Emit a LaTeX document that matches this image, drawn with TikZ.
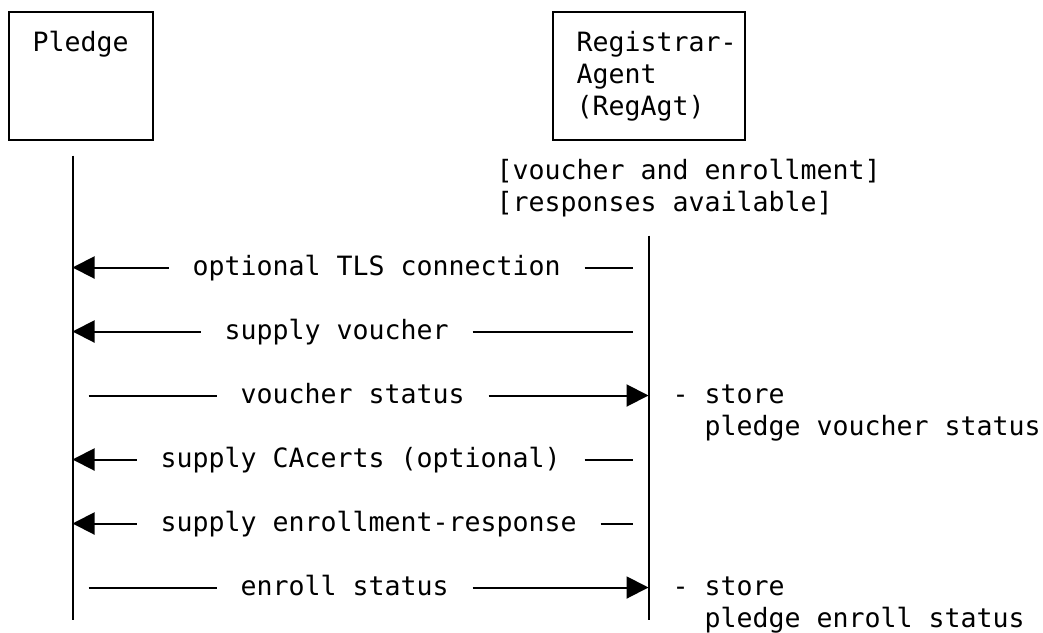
\documentclass[tikz,border=0pt]{standalone}
\usepackage{fontspec}
\newfontfamily\diagmono{DejaVu Sans Mono}
\usetikzlibrary{arrows.meta}

\begin{document}
\begin{tikzpicture}[x=1pt, y=-1pt,
  every node/.style={inner sep=0pt, outer sep=0pt,
    font=\diagmono\fontsize{26.58}{32}\selectfont},
  txt/.style={anchor=base west},
  box/.style={draw, line width=2pt, rectangle},
  wire/.style={line width=2pt},
  msg/.style={line width=2pt, -{Triangle[length=22pt,width=22pt]}},
]
\useasboundingbox (0,0) rectangle (1043,632);

% participants
\node[box, minimum width=144pt, minimum height=128pt] (pledge) at (80.5,75.5) {};
\node[box, minimum width=192pt, minimum height=128pt] (regagt) at (648.5,75.5) {};
\node[txt] (pledgeT) at (32.5,51.5) {Pledge};
\node[txt] (regT1) at (576.5,51.5) {Registrar-};
\node[txt] (regT2) at (576.5,83.5) {Agent};
\node[txt] (regT3) at (576.5,115.5) {(RegAgt)};

% precondition
\node[txt] (cond1) at (496.5,179.5) {[voucher and enrollment]};
\node[txt] (cond2) at (496.5,211.5) {[responses available]};

% lifelines
\coordinate (pTop) at (72.5,155.5);
\coordinate (pBot) at (72.5,619.5);
\coordinate (rTop) at (648.5,235.5);
\coordinate (rBot) at (648.5,619.5);
\draw[wire] (pTop) -- (pBot);
\draw[wire] (rTop) -- (rBot);

% optional TLS connection
\coordinate (p1) at (72.5,267.5);
\coordinate (a1) at (168.5,267.5);
\coordinate (b1) at (584.5,267.5);
\coordinate (c1) at (632.5,267.5);
\node[txt] (m1) at (192.5,275.5) {optional TLS connection};
\draw[msg] (a1) -- (p1);
\draw[wire] (b1) -- (c1);

% supply voucher
\coordinate (p2) at (72.5,331.5);
\coordinate (a2) at (200.5,331.5);
\coordinate (b2) at (472.5,331.5);
\coordinate (c2) at (632.5,331.5);
\node[txt] (m2) at (224.5,339.5) {supply voucher};
\draw[msg] (a2) -- (p2);
\draw[wire] (b2) -- (c2);

% voucher status
\coordinate (a3) at (88.5,395.5);
\coordinate (b3) at (216.5,395.5);
\coordinate (c3) at (488.5,395.5);
\coordinate (r3) at (648.5,395.5);
\node[txt] (m3) at (240.5,403.5) {voucher status};
\draw[wire] (a3) -- (b3);
\draw[msg] (c3) -- (r3);
\node[txt] (n3a) at (672.5,403.5) {- store};
\node[txt] (n3b) at (704.5,435.5) {pledge voucher status};

% supply CAcerts
\coordinate (p4) at (72.5,459.5);
\coordinate (a4) at (136.5,459.5);
\coordinate (b4) at (584.5,459.5);
\coordinate (c4) at (632.5,459.5);
\node[txt] (m4) at (160.5,467.5) {supply CAcerts (optional)};
\draw[msg] (a4) -- (p4);
\draw[wire] (b4) -- (c4);

% supply enrollment-response
\coordinate (p5) at (72.5,523.5);
\coordinate (a5) at (136.5,523.5);
\coordinate (b5) at (600.5,523.5);
\coordinate (c5) at (632.5,523.5);
\node[txt] (m5) at (160.5,531.5) {supply enrollment-response};
\draw[msg] (a5) -- (p5);
\draw[wire] (b5) -- (c5);

% enroll status
\coordinate (a6) at (88.5,587.5);
\coordinate (b6) at (216.5,587.5);
\coordinate (c6) at (472.5,587.5);
\coordinate (r6) at (648.5,587.5);
\node[txt] (m6) at (240.5,595.5) {enroll status};
\draw[wire] (a6) -- (b6);
\draw[msg] (c6) -- (r6);
\node[txt] (n6a) at (672.5,595.5) {- store};
\node[txt] (n6b) at (704.5,627.5) {pledge enroll status};
\end{tikzpicture}
\end{document}
